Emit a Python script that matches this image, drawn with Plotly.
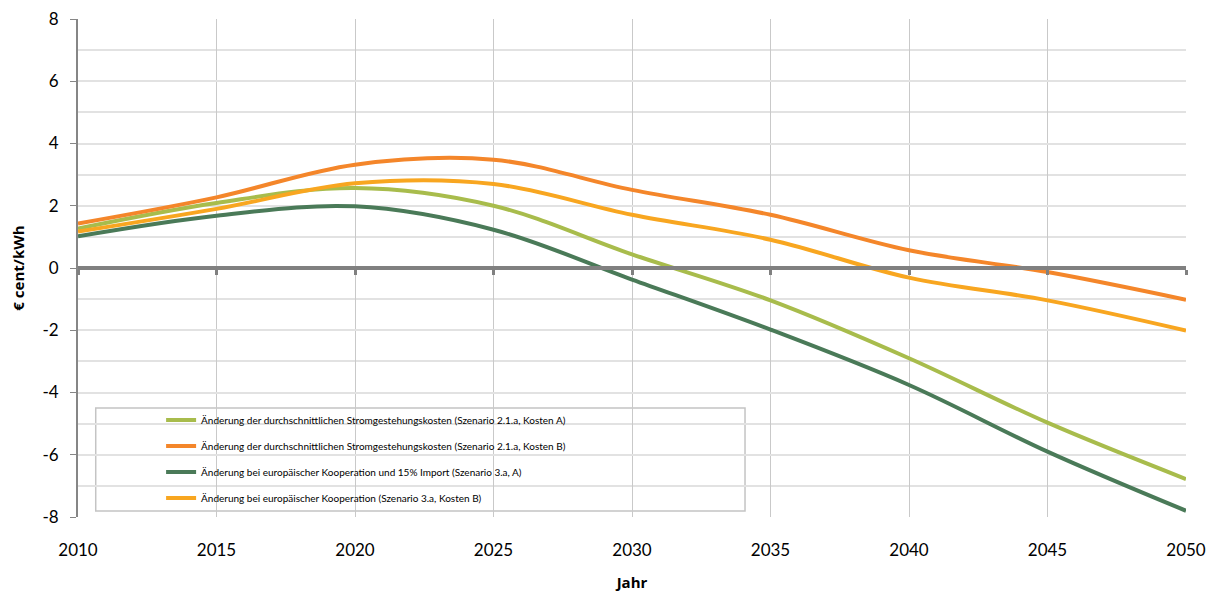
import plotly.graph_objects as go

years = [2010, 2015, 2020, 2025, 2030, 2035, 2040, 2045, 2050]
kosten_a = [1.27, 2.09, 2.57, 2.00, 0.44, -1.04, -2.90, -4.97, -6.78]
kosten_b = [1.43, 2.27, 3.32, 3.48, 2.51, 1.71, 0.57, -0.13, -1.02]
koop_import_a = [1.02, 1.68, 1.98, 1.23, -0.37, -1.98, -3.76, -5.90, -7.80]
koop_b = [1.17, 1.90, 2.72, 2.70, 1.71, 0.91, -0.31, -1.04, -2.01]

names = [
    "Änderung der durchschnittlichen Stromgestehungskosten (Szenario 2.1.a, Kosten A)",
    "Änderung der durchschnittlichen Stromgestehungskosten (Szenario 2.1.a, Kosten B)",
    "Änderung bei europäischer Kooperation und 15% Import (Szenario 3.a, A)",
    "Änderung bei europäischer Kooperation (Szenario 3.a, Kosten B)",
]
series = [kosten_a, kosten_b, koop_import_a, koop_b]
colors = ["#A8BC4C", "#F4862A", "#4A7A58", "#F8A620"]

y_ticks = [-8, -6, -4, -2, 0, 2, 4, 6, 8]
x_ticks = [2010, 2015, 2020, 2025, 2030, 2035, 2040, 2045, 2050]

fig = go.Figure()
for i, (nm, vals, col) in enumerate(zip(names, series, colors)):
    fig.add_trace(go.Scatter(
        x=years, y=vals, name=nm, mode="lines",
        line=dict(color=col, width=4, shape="spline", smoothing=1.0),
        legendgroup=f"g{i}",
    ))

# invisible trace to carry the zero-line axis with tick marks
fig.add_trace(go.Scatter(x=[years[0], years[-1]], y=[0, 0], xaxis="x2", mode="lines",
                         line=dict(width=0), showlegend=False, hoverinfo="skip"))

tick_font = dict(family="Lato, 'Open Sans', sans-serif", size=17, color="#000000")

fig.update_layout(
    width=1206, height=592,
    paper_bgcolor="white", plot_bgcolor="white",
    margin=dict(l=78, r=20, t=19, b=75),
    font=dict(family="Lato, 'Open Sans', sans-serif", color="#000000"),
    xaxis=dict(
        range=[2010, 2050], tickvals=x_ticks, ticktext=[str(v) for v in x_ticks],
        showgrid=True, gridcolor="#C9C9C9", gridwidth=1,
        showline=False, zeroline=False, automargin=False, ticklabeloverflow="allow",
        ticks="outside", ticklen=18, tickcolor="rgba(0,0,0,0)",
        tickfont=tick_font,
        title=dict(text="<b>Jahr</b>", font=dict(size=15, family="'Open Sans', sans-serif"), standoff=22),
    ),
    xaxis2=dict(
        matches="x", overlaying="x", anchor="free", position=0.5, side="bottom",
        showline=True, linecolor="#808080", linewidth=4, automargin=False,
        ticks="outside", ticklen=5, tickwidth=3, tickcolor="#808080",
        tickvals=x_ticks, showticklabels=False, showgrid=False, zeroline=False,
    ),
    yaxis=dict(
        range=[-8, 8], tickvals=y_ticks, ticktext=[str(v) for v in y_ticks],
        showgrid=True, gridcolor="#E2E2E2", gridwidth=1.5, zeroline=False,
        showline=True, linecolor="#868686", linewidth=2, automargin=False,
        ticklabeloverflow="allow",
        ticks="outside", ticklen=6, tickcolor="#868686", tickwidth=1,
        tickfont=tick_font, ticklabelstandoff=8,
        minor=dict(dtick=1, showgrid=True, gridcolor="#E2E2E2", gridwidth=1.5),
        title=dict(text="<b>€ cent/kWh</b>", font=dict(size=15, family="'Open Sans', sans-serif"), standoff=14),
    ),
    legend=dict(
        x=0.075, y=0.224, xanchor="left", yanchor="top",
        bgcolor="rgba(0,0,0,0)", borderwidth=0,
        font=dict(family="Lato, 'Open Sans', sans-serif", size=10),
        tracegroupgap=7, itemwidth=30,
    ),
    shapes=[dict(type="rect", xref="paper", yref="paper",
                 x0=0.016, x1=0.602, y0=0.012, y1=0.219,
                 line=dict(color="#C4C4C4", width=1.5), fillcolor="white", layer="below")],
)

fig.write_html(
    "out.html",
    config={"displayModeBar": False},
    post_script="document.body.style.margin='0';document.body.style.overflow='hidden';",
)
